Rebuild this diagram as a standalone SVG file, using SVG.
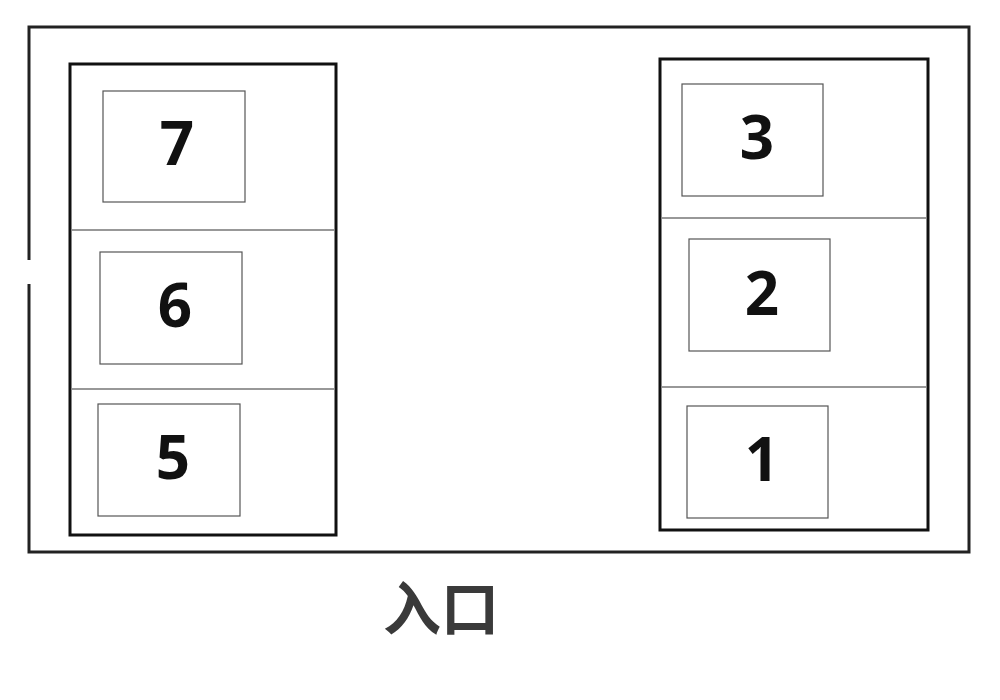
<svg xmlns="http://www.w3.org/2000/svg" width="1000" height="700" viewBox="0 0 1000 700">
<style>
.outer{fill:none;stroke:#222;stroke-width:3}
.block{fill:none;stroke:#111;stroke-width:3}
.div{stroke:#333;stroke-width:1.2}
.slot{fill:#fff;stroke:#555;stroke-width:1.2}
.num{font-family:"Open Sans","Noto Sans",sans-serif;font-weight:bold;font-size:60px;fill:#111;text-anchor:middle}
.label{font-family:"Noto Sans CJK SC","Noto Sans CJK JP",sans-serif;font-weight:bold;font-size:58px;fill:#3a3a3a;text-anchor:middle}
</style>
<rect width="1000" height="700" fill="#fff"/>
<g id="lot">
<path class="outer" d="M29,260 V27 H969 V552 H29 V284"/>
</g>
<g id="left-block">
<rect class="block" x="70" y="64" width="266" height="471"/>
<line class="div" x1="72" y1="230" x2="334" y2="230"/>
<line class="div" x1="72" y1="389" x2="334" y2="389"/>
</g>
<g id="right-block">
<rect class="block" x="660" y="59" width="268" height="471"/>
<line class="div" x1="662" y1="218" x2="926" y2="218"/>
<line class="div" x1="662" y1="387" x2="926" y2="387"/>
</g>
<g id="slot7"><rect class="slot" x="103" y="91" width="142" height="111"/><text class="num" x="177" y="165">7</text></g>
<g id="slot6"><rect class="slot" x="100" y="252" width="142" height="112"/><text class="num" x="175" y="327">6</text></g>
<g id="slot5"><rect class="slot" x="98" y="404" width="142" height="112"/><text class="num" x="173" y="479">5</text></g>
<g id="slot3"><rect class="slot" x="682" y="84" width="141" height="112"/><text class="num" x="757" y="159">3</text></g>
<g id="slot2"><rect class="slot" x="689" y="239" width="141" height="112"/><text class="num" x="762" y="315">2</text></g>
<g id="slot1"><rect class="slot" x="687" y="406" width="141" height="112"/><text class="num" x="762" y="481">1</text></g>
<g id="entrance"><text class="label" x="441" y="630">入口</text></g>
<g id="connectors"></g>
</svg>
